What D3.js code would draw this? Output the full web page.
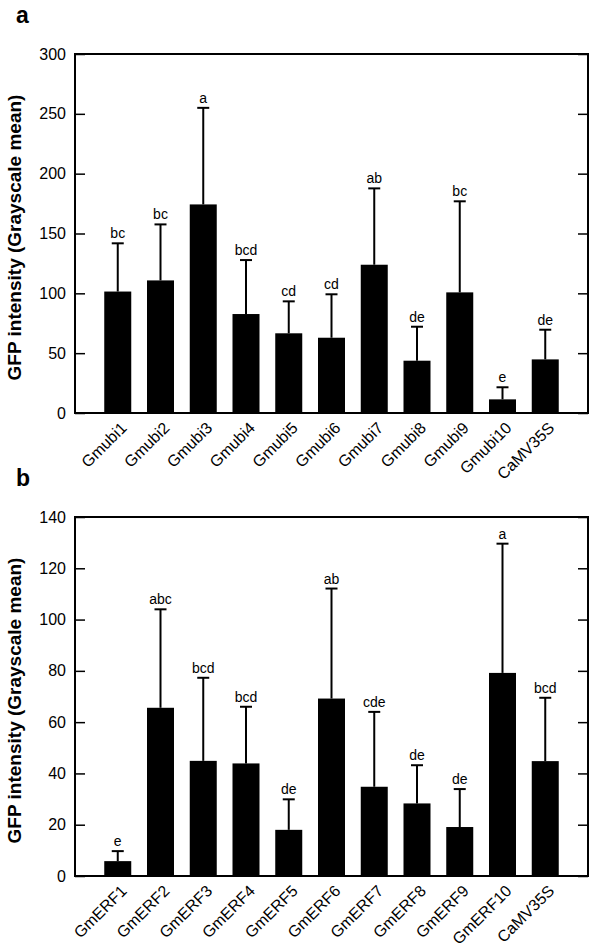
<!DOCTYPE html>
<html><head><meta charset="utf-8">
<script src="https://cdn.jsdelivr.net/npm/d3@7"></script>
<style>html,body{margin:0;padding:0;background:#fff;} svg{display:block;}</style>
</head><body>
<script>
// ---- Data ----
const categoriesA = ["Gmubi1","Gmubi2","Gmubi3","Gmubi4","Gmubi5","Gmubi6","Gmubi7","Gmubi8","Gmubi9","Gmubi10","CaMV35S"];
const meansA = [101.5, 110.8, 174.3, 82.7, 66.6, 62.9, 123.9, 43.7, 100.8, 11.4, 44.8];
const sdA    = [40.3, 46.8, 80.7, 45.1, 26.7, 36.3, 63.8, 28.4, 76.1, 10.1, 24.8];
const lettersA = ["bc","bc","a","bcd","cd","cd","ab","de","bc","e","de"];
const ticksA = [0, 50, 100, 150, 200, 250, 300];

const categoriesB = ["GmERF1","GmERF2","GmERF3","GmERF4","GmERF5","GmERF6","GmERF7","GmERF8","GmERF9","GmERF10","CaMV35S"];
const meansB = [5.8, 65.6, 44.9, 43.9, 18.0, 69.2, 34.8, 28.3, 19.1, 79.2, 44.8];
const sdB    = [3.9, 38.4, 32.4, 22.1, 11.9, 42.9, 29.2, 14.9, 14.8, 50.4, 24.7];
const lettersB = ["e","abc","bcd","bcd","de","ab","cde","de","de","a","bcd"];
const ticksB = [0, 20, 40, 60, 80, 100, 120, 140];

const yLabel = "GFP intensity (Grayscale mean)";
const FONT = "Arial, 'Liberation Sans', sans-serif";

const svg = d3.select("body").append("svg").attr("width", 600).attr("height", 952)
  .style("font-family", FONT);

function panel(opts) {
  const {letter, cats, means, sds, lets, ticks, top, bottom, yMax} = opts;
  const left = 75, right = 588;
  const g = svg.append("g");
  const x = d3.scaleLinear().domain([0, cats.length + 1]).range([left, right]);
  const y = d3.scaleLinear().domain([0, yMax]).range([bottom, top]);
  const bw = 27;

  // panel letter
  g.append("text").attr("x", 16).attr("y", top - 31).text(letter)
    .attr("font-size", 23).attr("font-weight", "bold");

  // bars
  g.selectAll("rect.bar").data(means).enter().append("rect")
    .attr("x", (d, i) => x(i + 1) - bw / 2).attr("width", bw)
    .attr("y", d => y(d)).attr("height", d => y(0) - y(d)).attr("fill", "#000");

  // error bars
  const eg = g.selectAll("g.err").data(means).enter().append("g");
  eg.append("line").attr("x1", (d, i) => x(i + 1)).attr("x2", (d, i) => x(i + 1))
    .attr("y1", d => y(d)).attr("y2", (d, i) => y(d + sds[i]))
    .attr("stroke", "#000").attr("stroke-width", 2);
  eg.append("line").attr("x1", (d, i) => x(i + 1) - 6).attr("x2", (d, i) => x(i + 1) + 6)
    .attr("y1", (d, i) => y(d + sds[i])).attr("y2", (d, i) => y(d + sds[i]))
    .attr("stroke", "#000").attr("stroke-width", 2);
  // letters
  g.selectAll("text.let").data(means).enter().append("text")
    .attr("x", (d, i) => x(i + 1)).attr("y", (d, i) => y(d + sds[i]) - 5)
    .attr("text-anchor", "middle").attr("font-size", 14).text((d, i) => lets[i]);

  // left axis (ticks inward)
  const ya = g.append("g").attr("transform", `translate(${left},0)`)
    .call(d3.axisRight(y).tickValues(ticks).tickSize(10).tickFormat(""));
  ya.select(".domain").remove();
  ya.selectAll("line").attr("stroke-width", 1.5);
  g.selectAll("text.ytl").data(ticks).enter().append("text")
    .attr("x", 66).attr("y", d => y(d)).attr("dy", "0.35em")
    .attr("text-anchor", "end").attr("font-size", 16).text(d => d);
  // right axis (ticks inward)
  const yr = g.append("g").attr("transform", `translate(${right},0)`)
    .call(d3.axisLeft(y).tickValues(ticks).tickSize(10).tickFormat(""));
  yr.select(".domain").remove();
  yr.selectAll("line").attr("stroke-width", 1.5);

  // frame
  g.append("rect").attr("x", left).attr("y", top).attr("width", right - left)
    .attr("height", bottom - top).attr("fill", "none").attr("stroke", "#000").attr("stroke-width", 2);

  // x labels
  g.selectAll("text.xl").data(cats).enter().append("text")
    .attr("transform", (d, i) => `translate(${x(i + 1) + 6},${bottom + 12}) rotate(-45)`)
    .attr("text-anchor", "end").attr("dy", "0.35em").attr("font-size", 16).text(d => d);

  // y label
  const cy = (top + bottom) / 2 + 4;
  g.append("text").attr("transform", `translate(21,${cy}) rotate(-90)`)
    .attr("text-anchor", "middle").attr("font-size", 19).attr("font-weight", "bold").text(yLabel);
}

panel({letter: "a", cats: categoriesA, means: meansA, sds: sdA, lets: lettersA, ticks: ticksA, top: 54, bottom: 413, yMax: 300});
panel({letter: "b", cats: categoriesB, means: meansB, sds: sdB, lets: lettersB, ticks: ticksB, top: 517, bottom: 876, yMax: 140});
</script>
</body></html>
